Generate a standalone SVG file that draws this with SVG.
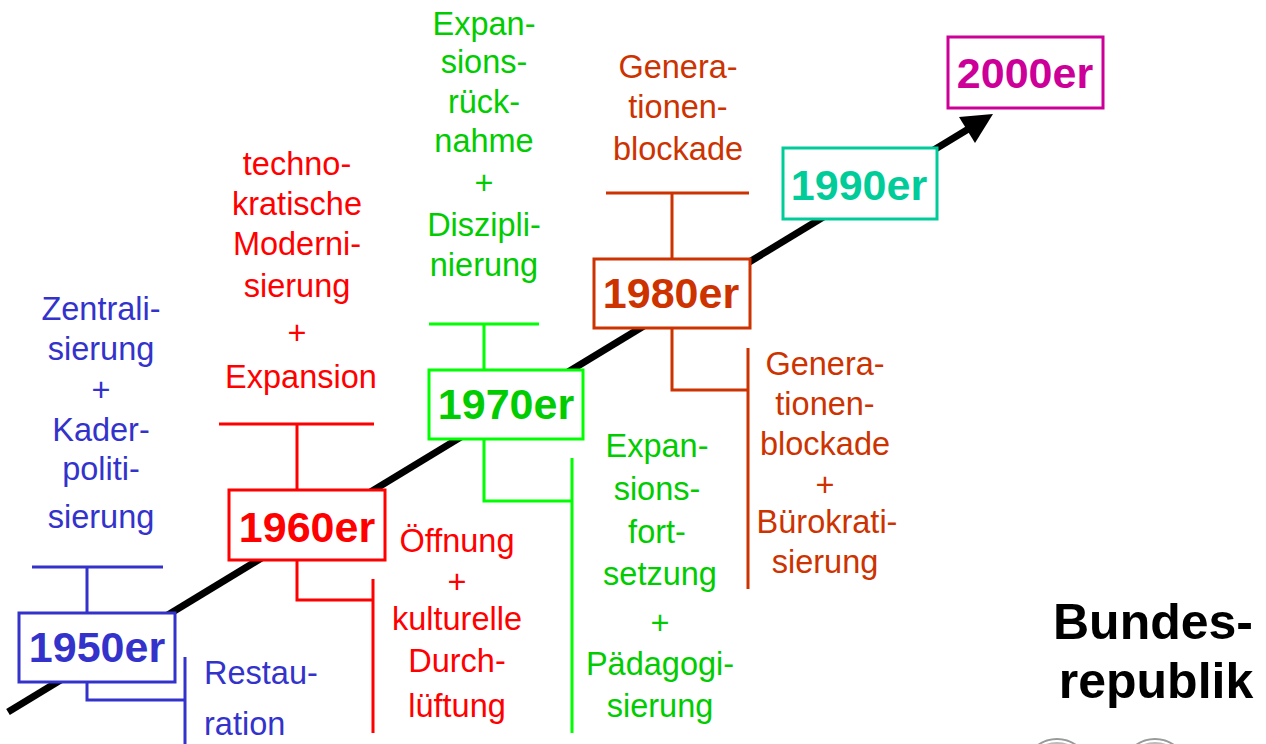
<svg xmlns="http://www.w3.org/2000/svg" width="1266" height="744" viewBox="0 0 1266 744">
<style>
.t{font-family:"Liberation Sans",Arial,sans-serif;font-size:32.5px;text-anchor:middle}
.y{font-family:"Liberation Sans",Arial,sans-serif;font-size:43px;font-weight:bold;text-anchor:middle}
.box{fill:#fff;stroke-width:3}
.br{fill:none;stroke-width:3}
.blue{fill:#3333CC}.red{fill:#FF0000}.grn{fill:#00CC00}.brn{fill:#CC3300}.teal{fill:#00CC99}.mag{fill:#CC0099}
</style>
<rect width="1266" height="744" fill="#fff"/>
<g id="coins" fill="none" stroke="#999" stroke-width="2">
<circle cx="1057" cy="772" r="33"/>
<circle cx="1057" cy="772" r="29" stroke="#bbb"/>
<circle cx="1155" cy="772" r="33"/>
<circle cx="1155" cy="772" r="29" stroke="#bbb"/>
</g>
<g id="connectors">
<line x1="8" y1="712" x2="970" y2="128" stroke="#000" stroke-width="7"/>
<polygon points="993,114 959,117 975,143" fill="#000"/>
<path class="br" stroke="#3333CC" d="M32,567H163M87,567V612M87,682V700H185M185,657V744"/>
<path class="br" stroke="#FF0000" d="M219,424H374M297,424V489M297,560V600H373M373,579V733"/>
<path class="br" stroke="#00FF00" d="M429,324H539M484,324V369M484,439V501H572M572,458V733"/>
<path class="br" stroke="#CC3300" d="M606,193H749M672,193V258M672,328V390H748M748,348V589"/>
</g>
<g id="n1950">
<rect class="box" stroke="#3333CC" x="19" y="613" width="156" height="69"/>
<text class="y blue" x="97" y="662">1950er</text>
<text class="t blue"><tspan x="101" y="320">Zentrali-</tspan><tspan x="101" y="360">sierung</tspan><tspan x="101" y="401">+</tspan><tspan x="101" y="441">Kader-</tspan><tspan x="101" y="480">politi-</tspan><tspan x="101" y="528">sierung</tspan></text>
<text class="t blue" style="text-anchor:start"><tspan x="204" y="684">Restau-</tspan><tspan x="204" y="735">ration</tspan></text>
</g>
<g id="n1960">
<rect class="box" stroke="#FF0000" x="229" y="490" width="156" height="70"/>
<text class="y red" x="307" y="542">1960er</text>
<text class="t red"><tspan x="297" y="175">techno-</tspan><tspan x="297" y="215">kratische</tspan><tspan x="297" y="255">Moderni-</tspan><tspan x="297" y="297">sierung</tspan><tspan x="297" y="344">+</tspan><tspan x="301" y="388">Expansion</tspan></text>
<text class="t red"><tspan x="457" y="552">Öffnung</tspan><tspan x="457" y="593">+</tspan><tspan x="457" y="630">kulturelle</tspan><tspan x="457" y="672">Durch-</tspan><tspan x="457" y="717">lüftung</tspan></text>
</g>
<g id="n1970">
<rect class="box" stroke="#00FF00" x="429" y="370" width="154" height="69"/>
<text class="y grn" x="506" y="419">1970er</text>
<text class="t grn"><tspan x="484" y="35">Expan-</tspan><tspan x="484" y="73">sions-</tspan><tspan x="484" y="113">rück-</tspan><tspan x="484" y="152">nahme</tspan><tspan x="484" y="194">+</tspan><tspan x="484" y="236">Diszipli-</tspan><tspan x="484" y="276">nierung</tspan></text>
<text class="t grn"><tspan x="657" y="457">Expan-</tspan><tspan x="657" y="500">sions-</tspan><tspan x="657" y="543">fort-</tspan><tspan x="660" y="585">setzung</tspan><tspan x="660" y="634">+</tspan><tspan x="660" y="675">Pädagogi-</tspan><tspan x="660" y="717">sierung</tspan></text>
</g>
<g id="n1980">
<rect class="box" stroke="#CC3300" x="594" y="259" width="156" height="69"/>
<text class="y brn" x="671" y="308">1980er</text>
<text class="t brn"><tspan x="678" y="78">Genera-</tspan><tspan x="678" y="118">tionen-</tspan><tspan x="678" y="160">blockade</tspan></text>
<text class="t brn"><tspan x="825" y="375">Genera-</tspan><tspan x="825" y="415">tionen-</tspan><tspan x="825" y="455">blockade</tspan><tspan x="825" y="496">+</tspan><tspan x="827" y="533">Bürokrati-</tspan><tspan x="825" y="573">sierung</tspan></text>
</g>
<g id="n1990">
<rect class="box" stroke="#00CC99" x="783" y="148" width="154" height="71"/>
<text class="y teal" x="859" y="200">1990er</text>
</g>
<g id="n2000">
<rect class="box" stroke="#CC0099" x="948" y="37" width="155" height="71"/>
<text class="y mag" x="1025" y="88">2000er</text>
</g>
<g id="label">
<text style="font-family:'Liberation Sans',Arial,sans-serif;font-size:50px;font-weight:bold;text-anchor:middle" fill="#000"><tspan x="1153" y="639">Bundes-</tspan><tspan x="1156" y="698">republik</tspan></text>
</g>
</svg>
